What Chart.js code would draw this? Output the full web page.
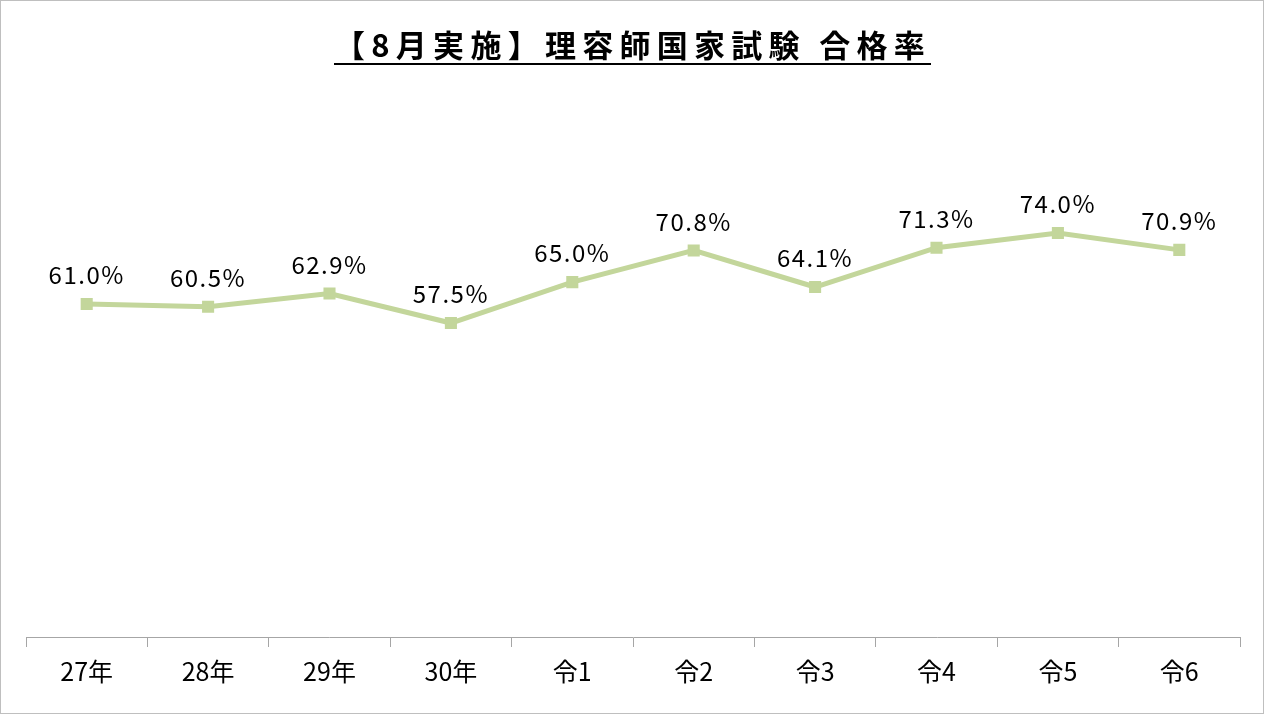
<!DOCTYPE html>
<html>
<head>
<meta charset="utf-8">
<script src="https://cdn.jsdelivr.net/npm/chart.js@4"></script>
<style>
  html, body { margin: 0; padding: 0; background: #fff; }
  #wrap { width: 1262px; height: 712px; border: 1px solid #bfbfbf; }
</style>
</head>
<body>
<div id="wrap"><canvas id="chart" width="1262" height="712"></canvas></div>
<script>
// Chart data
const categories = ['27年', '28年', '29年', '30年', '令1', '令2', '令3', '令4', '令5', '令6'];
const passRates = [61.0, 60.5, 62.9, 57.5, 65.0, 70.8, 64.1, 71.3, 74.0, 70.9];
const chartTitle = '【8月実施】理容師国家試験 合格率';

const fontFamily = '"Noto Sans CJK JP", "Noto Sans", sans-serif';

// Title with underline + point labels
const labelsPlugin = {
    id: 'labels',
    afterDatasetsDraw(chart) {
        const ctx = chart.ctx;
        ctx.save();
        ctx.fillStyle = '#000';
        ctx.font = '24px ' + fontFamily;
        ctx.letterSpacing = '1.5px';
        ctx.textAlign = 'center';
        ctx.textBaseline = 'bottom';
        chart.getDatasetMeta(0).data.forEach((pt, i) => {
            ctx.fillText(passRates[i].toFixed(1) + '%', pt.x, pt.y - 17);
        });

        // title, stretched to the reference width
        ctx.font = 'bold 31px ' + fontFamily;
        ctx.letterSpacing = '0px';
        const targetW = 597;
        const baseW = ctx.measureText(chartTitle).width;
        ctx.letterSpacing = ((targetW - baseW) / chartTitle.length) + 'px';
        ctx.textAlign = 'left';
        ctx.textBaseline = 'middle';
        const left = 333, cy = 44;
        ctx.fillText(chartTitle, left, cy);
        ctx.fillRect(left, cy + 18, targetW, 2);
        ctx.restore();
    }
};

new Chart(document.getElementById('chart').getContext('2d'), {
    type: 'line',
    data: {
        labels: categories,
        datasets: [{
            data: passRates,
            borderColor: '#c3d69b',
            backgroundColor: '#c3d69b',
            borderWidth: 5,
            pointStyle: 'rect',
            pointRadius: 5,
            tension: 0
        }]
    },
    options: {
        responsive: false,
        animation: false,
        layout: { padding: { top: 90, left: 25, right: 23, bottom: 0 } },
        plugins: { legend: { display: false }, tooltip: { enabled: false } },
        scales: {
            y: { display: false, min: 0, max: 100 },
            x: {
                offset: true,
                grid: { offset: true, drawOnChartArea: false, tickLength: 10, color: '#a6a6a6' },
                border: { color: '#a6a6a6' },
                ticks: { color: '#000', font: { size: 25, family: fontFamily }, padding: 9 },
                afterFit(scale) { scale.height = 76; }
            }
        }
    },
    plugins: [labelsPlugin]
});
</script>
</body>
</html>
